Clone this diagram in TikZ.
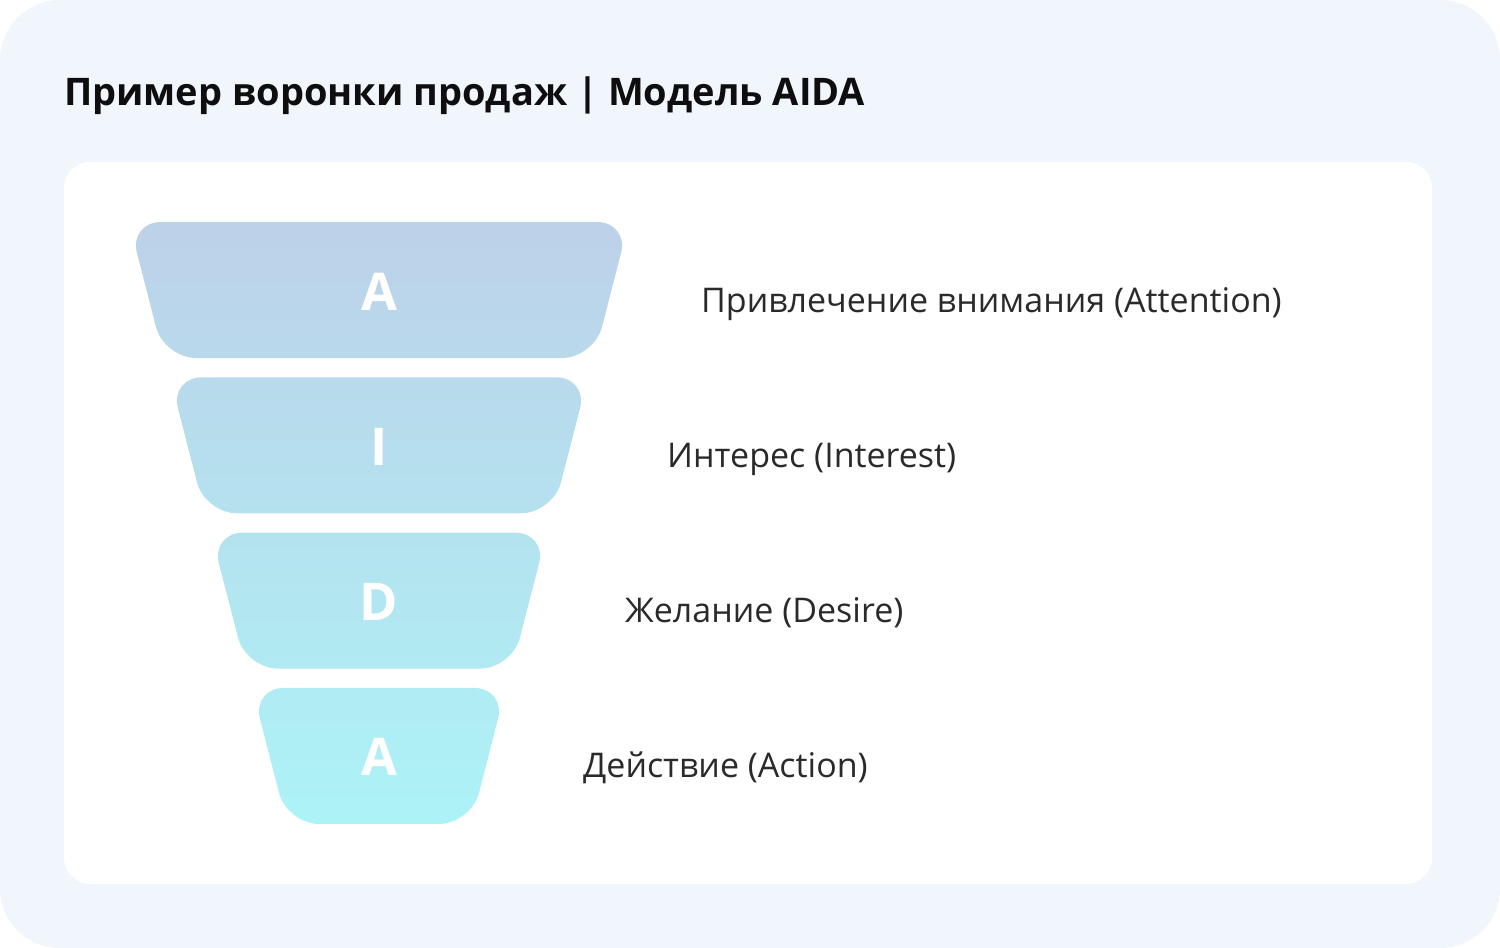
\documentclass[tikz,border=0pt]{standalone}
\usepackage{fontspec}
\setmainfont{Open Sans}
\usetikzlibrary{calc}
\definecolor{bgblue}{HTML}{F0F6FC}
\definecolor{fS}{RGB}{189,209,232}
\definecolor{fE}{RGB}{172,243,247}
\definecolor{labelc}{HTML}{2A2A2A}
\definecolor{titlec}{HTML}{0E0E0E}
\tikzset{
  funnel/.style={rounded corners=32pt},
  lettertext/.style={anchor=base, text=white, inner sep=0pt, font=\bfseries\fontsize{52}{60}\selectfont},
  labeltext/.style={anchor=base west, text=labelc, inner sep=0pt, font=\fontsize{34}{40}\selectfont},
  titletext/.style={anchor=base west, text=titlec, inner sep=0pt, font=\bfseries\fontsize{38}{46}\selectfont}
}
\begin{document}
\begin{tikzpicture}[x=1pt,y=-1pt]
\useasboundingbox (0,0) rectangle (1500,948);
\fill[white] (0,0) rectangle (1500,948);
\fill[bgblue, rounded corners=60pt] (0,0) rectangle (1500,948);
\node[titletext] (title) at (64,105) {Пример воронки продаж | Модель AIDA};
\fill[white, rounded corners=26pt] (64,162) rectangle (1432,884);
\foreach \k/\pt/\pb/\ltr/\labtxt/\lx/\nm in {
  0/0/23/A/{Привлечение внимания (Attention)}/701/a,
  1/26/49/I/{Интерес (Interest)}/667/i,
  2/52/74/D/{Желание (Desire)}/625/d,
  3/78/100/A/{Действие (Action)}/583/e}{
  \pgfmathsetmacro{\yt}{222+155.3*\k}
  \pgfmathsetmacro{\yb}{\yt+136}
  \pgfmathsetmacro{\wt}{250-41*\k}
  \pgfmathsetmacro{\wb}{\wt-35}
  \shade[funnel, top color=fE!\pt!fS, bottom color=fE!\pb!fS]
    (379-\wt,\yt) -- (379+\wt,\yt) -- (379+\wb,\yb) -- (379-\wb,\yb) -- cycle;
  \node[lettertext] (L\nm) at (379,\yt+88) {\ltr};
  \node[labeltext] (T\nm) at (\lx,\yt+90) {\labtxt};
}
\end{tikzpicture}
\end{document}
